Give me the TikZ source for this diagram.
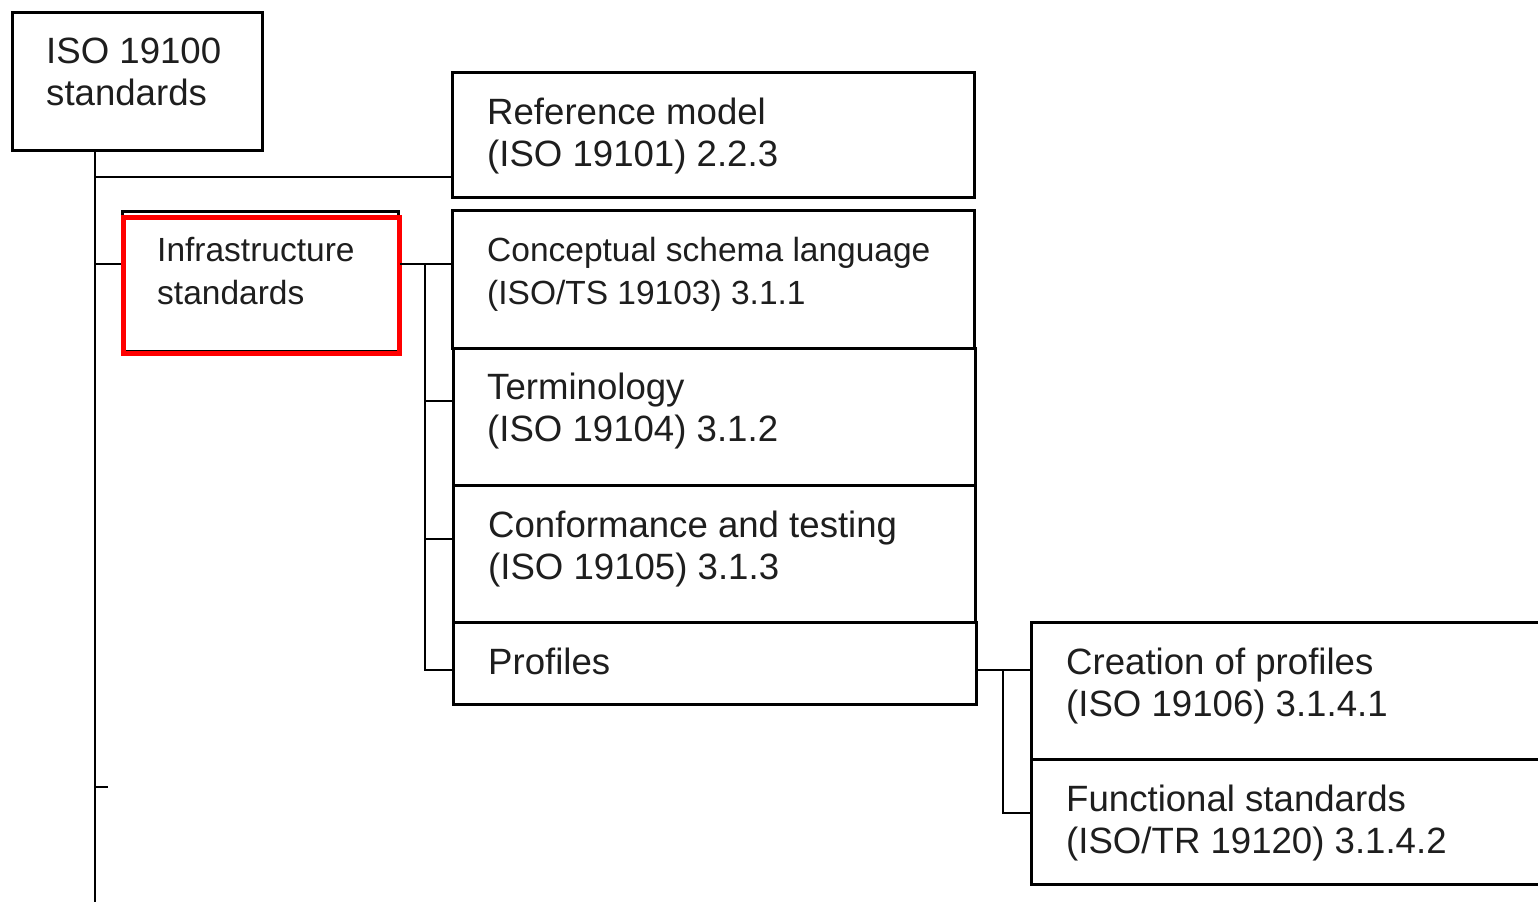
\documentclass[tikz,border=0pt]{standalone}
\usepackage{fontspec}
\setmainfont{Liberation Sans}
\definecolor{ink}{HTML}{1E1E1E}
\begin{document}
\begin{tikzpicture}[x=1pt,y=-1pt,
  box/.style={draw=black, line width=2.8pt, anchor=north west, inner sep=0pt, fill=none},
  txt/.style={anchor=base west, inner sep=0pt, align=left, text=ink,
              font=\fontsize{36.6}{42}\selectfont},
  stxt/.style={txt, font=\fontsize{33.5}{42.5}\selectfont},
  link/.style={draw=black, line width=2.3pt},
  hl/.style={draw=red, line width=4.5pt}]
\useasboundingbox[fill=white] (0,0) rectangle (1538,902);
% boxes
\node[box, minimum width=250, minimum height=138] (iso) at (11,11) {};
\node[box, minimum width=522, minimum height=125] (ref) at (451,71) {};
\node[box, minimum width=276, minimum height=140] (infra) at (121,210) {};
\node[box, minimum width=522, minimum height=138] (con) at (451,209) {};
\node[box, minimum width=522, minimum height=137] (term) at (452,347) {};
\node[box, minimum width=522, minimum height=137] (conf) at (452,484) {};
\node[box, minimum width=523, minimum height=82] (prof) at (452,621) {};
\node[box, minimum width=520, minimum height=137] (crea) at (1030,621) {};
\node[box, minimum width=520, minimum height=125] (func) at (1030,758) {};
\node[hl, anchor=north west, inner sep=0pt, minimum width=276, minimum height=136] (hlbox) at (121,215) {};
% texts (base = baseline of the last line)
\node[txt] (isot) at (46,105) {ISO 19100\\standards};
\node[txt] (reft) at (487,166) {Reference model\\(ISO 19101) 2.2.3};
\node[stxt] (infrat) at (157,304) {Infrastructure\\standards};
\node[stxt] (cont) at (487,304) {Conceptual schema language\\(ISO/TS 19103) 3.1.1};
\node[txt] (termt) at (487,441) {Terminology\\(ISO 19104) 3.1.2};
\node[txt] (conft) at (488,579) {Conformance and testing\\(ISO 19105) 3.1.3};
\node[txt] (proft) at (488,674) {Profiles};
\node[txt] (creat) at (1066,716) {Creation of profiles\\(ISO 19106) 3.1.4.1};
\node[txt] (funct) at (1066,853) {Functional standards\\(ISO/TR 19120) 3.1.4.2};
% connectors
\coordinate (t0) at (95,149);
\coordinate (tend) at (95,902);
\coordinate (j1) at (95,177);
\coordinate (j2) at (95,264);
\coordinate (tick) at (108,787);
\coordinate (s0) at (425,264);
\coordinate (s1) at (425,401);
\coordinate (s2) at (425,539);
\coordinate (s3) at (425,670);
\coordinate (p0) at (1003,670);
\coordinate (p1) at (1003,813);
\draw[link] (t0) -- (tend);
\draw[link] (j1) -- (j1 -| ref.west);
\draw[link] (j2) -- (j2 -| infra.west);
\draw[link] (tick -| tend) -- (tick);
\draw[link] (j2 -| infra.east) -- (j2 -| con.west);
\draw[link] (s0) -- (s3) -- (s3 -| prof.west);
\draw[link] (s1) -- (s1 -| term.west);
\draw[link] (s2) -- (s2 -| conf.west);
\draw[link] (p0 -| prof.east) -- (p0 -| crea.west);
\draw[link] (p0) -- (p1) -- (p1 -| func.west);
\end{tikzpicture}
\end{document}
